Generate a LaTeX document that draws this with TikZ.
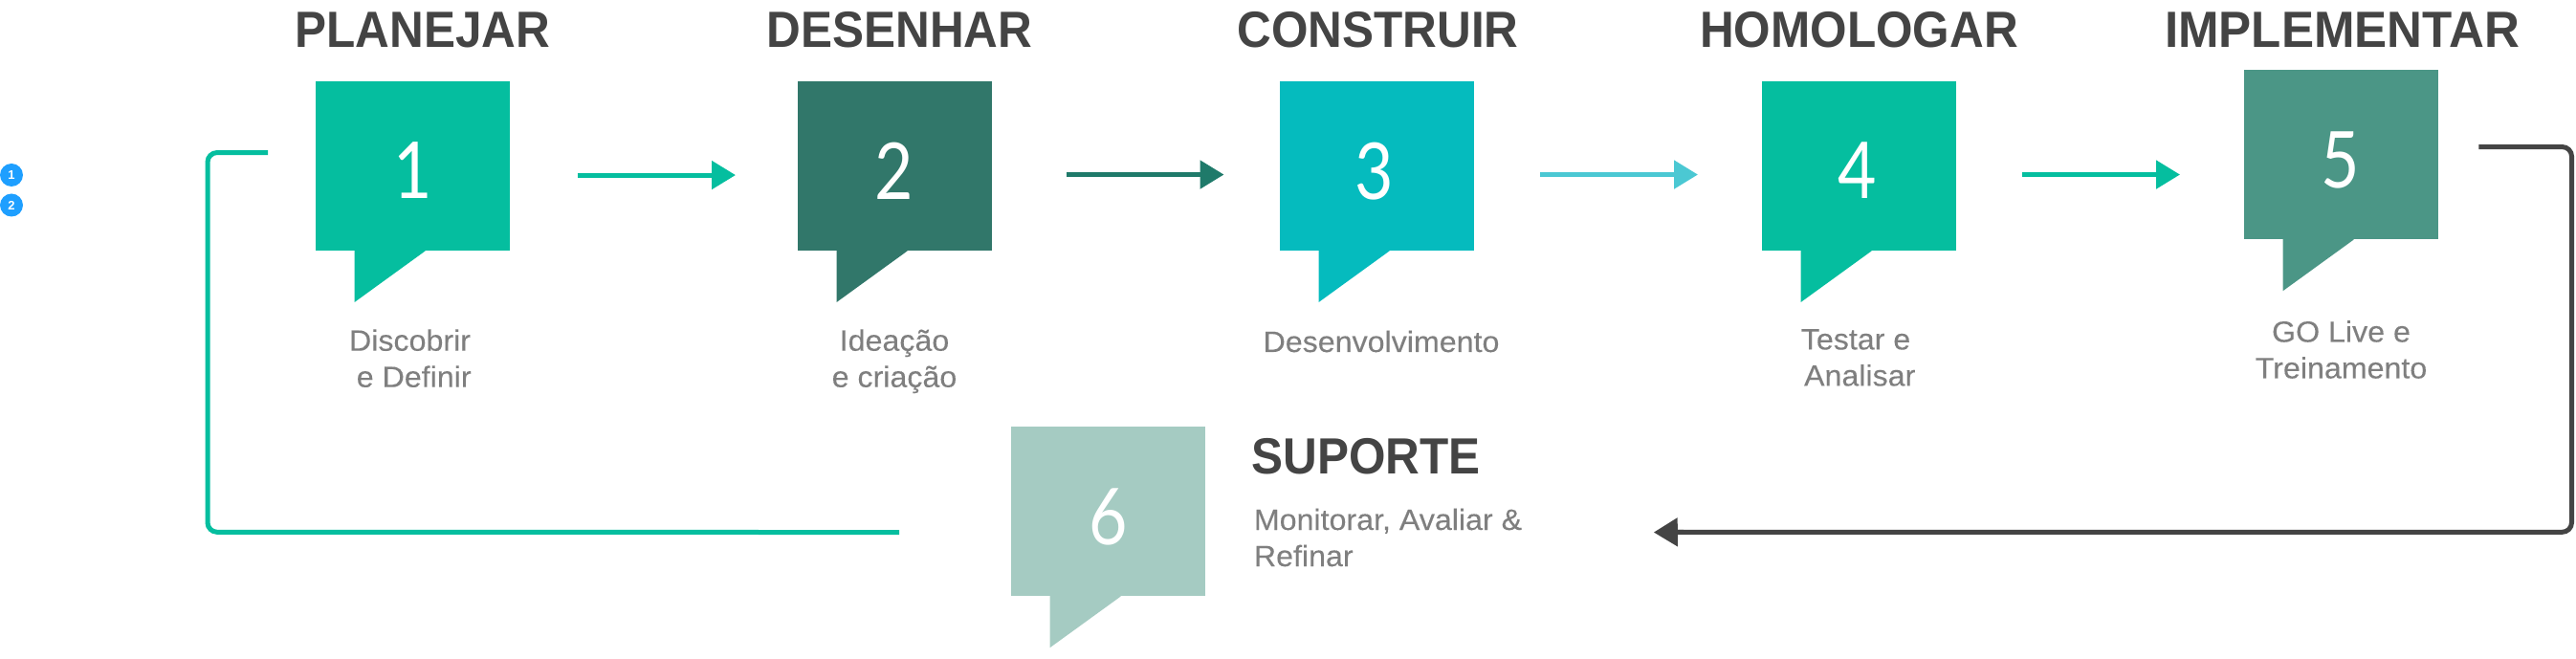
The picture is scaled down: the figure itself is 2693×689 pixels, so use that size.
\documentclass[tikz,border=0pt]{standalone}
\usepackage{fontspec}
\setmainfont{Liberation Sans}
\newfontfamily\titlefont[FakeStretch=0.93]{Liberation Sans}
\newfontfamily\widetitlefont[FakeStretch=0.96]{Liberation Sans}
\newfontfamily\capfont[FakeStretch=1.045,FakeBold=0.15]{Liberation Sans}
\newfontfamily\digitfont[FakeStretch=0.85]{Lato}
\usetikzlibrary{arrows.meta,calc}
\definecolor{cA}{HTML}{05BE9F}
\definecolor{cB}{HTML}{31776A}
\definecolor{cC}{HTML}{05BBBE}
\definecolor{cE}{HTML}{4B9686}
\definecolor{cF}{HTML}{A5CBC2}
\definecolor{aB}{HTML}{1F7A6A}
\definecolor{aC}{HTML}{4BC8D3}
\definecolor{ink}{HTML}{444444}
\definecolor{soft}{HTML}{7F7F7F}
\definecolor{badge}{HTML}{1E9FFF}
\tikzset{
  x=0.5pt,y=-0.5pt,
  boxnode/.style={inner sep=0pt,minimum width=101.5pt,minimum height=88.35pt,anchor=north west,fill=#1},
  digit/.style={text=white,font=\digitfont\fontsize{41}{41}\selectfont,inner sep=0pt},
  title/.style={text=ink,font=\titlefont\bfseries\fontsize{26.6}{26.6}\selectfont,inner sep=0pt,anchor=base},
  caption/.style={text=soft,font=\capfont\fontsize{15.4}{19}\selectfont,inner sep=0pt,anchor=base,align=center},
  flow/.style={line width=2.5pt,-{Triangle[length=12.5pt,width=14.5pt]}},
  loopline/.style={line width=2.5pt,rounded corners=5pt},
  badgenode/.style={circle,fill=badge,text=white,inner sep=0pt,minimum size=12pt,font=\bfseries\fontsize{6.5}{6.5}\selectfont},
}
\newcommand{\callout}[2]{%
  \fill[#2] ($(#1.south west)+(40.7,-1)$) -- ($(#1.south west)+(40.7,53.6)$) -- ($(#1.south west)+(114.7,0)$) -- ($(#1.south west)+(114.7,-1)$) -- cycle;
}
\begin{document}
\begin{tikzpicture}
\useasboundingbox (0,0) rectangle (2693,689);
\node[boxnode=cA] (box1) at (330,84.8) {};
\node[boxnode=cB] (box2) at (834,84.8) {};
\node[boxnode=cC] (box3) at (1338,84.8) {};
\node[boxnode=cA] (box4) at (1842,84.8) {};
\node[boxnode=cE] (box5) at (2346,73) {};
\node[boxnode=cF] (box6) at (1057,446) {};
\callout{box1}{cA}\callout{box2}{cB}\callout{box3}{cC}
\callout{box4}{cA}\callout{box5}{cE}\callout{box6}{cF}
\node[digit] (d1) at (432,178) {1};
\node[digit] (d2) at (935,178.4) {2};
\node[digit] (d3) at (1437,178.8) {3};
\node[digit] (d4) at (1942,178.4) {4};
\node[digit] (d5) at (2446.5,167) {5};
\node[digit] (d6) at (1158.5,540) {6};
\node[title] (t1) at (442,49.7) {PLANEJAR};
\node[title] (t2) at (940.5,49.7) {DESENHAR};
\node[title] (t3) at (1440.5,49.7) {CONSTRUIR};
\node[title] (t4) at (1943.5,49.7) {HOMOLOGAR};
\node[title,font=\widetitlefont\bfseries\fontsize{26.6}{26.6}\selectfont] (t5) at (2448.5,49.7) {IMPLEMENTAR};
\node[title] (t6) at (1428,495.7) {SUPORTE};
\node[caption] (c1) at (428.5,404.7) {Discobrir\\\hspace*{4.2pt}e Definir};
\node[caption] (c2) at (935,404.7) {Ideação\\e criação};
\node[caption] (c3) at (1444,368) {Desenvolvimento};
\node[caption] (c4) at (1940,403.4) {Testar e\\\hspace*{4.2pt}Analisar};
\node[caption] (c5) at (2447.5,395.5) {GO Live e\\Treinamento};
\node[caption,align=left] (c6) at (1451,592) {Monitorar, Avaliar \&\\Refinar};
\node[badgenode] (b1) at (12,183) {1};
\node[badgenode] (b2) at (12,214.5) {2};
\draw[flow,cA] ($(box1.east)+(70,9.5)$) -- ($(box2.west)+(-65,9.5)$);
\draw[flow,aB] ($(box2.east)+(77,9)$) -- ($(box3.west)+(-58.5,9)$);
\draw[flow,aC] ($(box3.east)+(68,9)$) -- ($(box4.west)+(-67,9)$);
\draw[flow,cA] ($(box4.east)+(68.5,9)$) -- ($(box5.west)+(-67,20.8)$);
\draw[loopline,cA] ($(box1.west)+(-50,-14)$) -| (217,556.3) -- ($(box6.west)+(-117,21.8)$);
\draw[loopline,ink] ($(box5.east)+(41.5,-8.2)$) -| (2688.5,556.3) -- (1750,556.3);
\draw[flow,ink] (1760,556.3) -- ($(box6.east)+(468,21.8)$);
\end{tikzpicture}
\end{document}
